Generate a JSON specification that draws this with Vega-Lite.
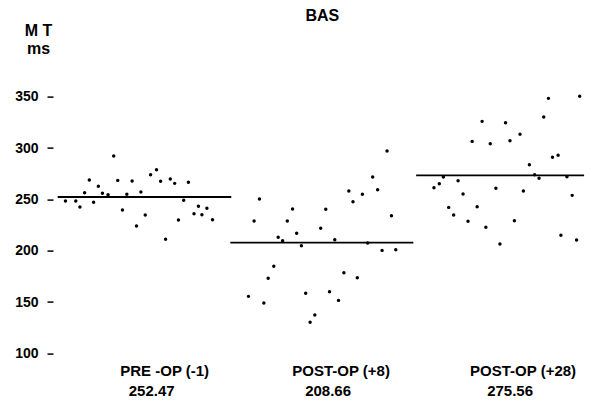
{
  "$schema": "https://vega.github.io/schema/vega-lite/v6.json",
  "width": 563,
  "height": 302.8,
  "autosize": {"type": "none"},
  "padding": {"top": 91.6, "left": 53, "right": 0, "bottom": 7.6},
  "background": "white",
  "config": {"view": {"stroke": null}, "font": "Liberation Sans"},
  "datasets": {
    "points": [
      {"group": "PRE-OP (-1)", "pos": 63.3, "mt": 248.4},
      {"group": "PRE-OP (-1)", "pos": 74.3, "mt": 248.4},
      {"group": "PRE-OP (-1)", "pos": 78.7, "mt": 242.5},
      {"group": "PRE-OP (-1)", "pos": 83.7, "mt": 256.5},
      {"group": "PRE-OP (-1)", "pos": 88.7, "mt": 268.8},
      {"group": "PRE-OP (-1)", "pos": 93.3, "mt": 247.1},
      {"group": "PRE-OP (-1)", "pos": 98.3, "mt": 262.7},
      {"group": "PRE-OP (-1)", "pos": 102.7, "mt": 255.9},
      {"group": "PRE-OP (-1)", "pos": 108.7, "mt": 254.5},
      {"group": "PRE-OP (-1)", "pos": 114.7, "mt": 292.2},
      {"group": "PRE-OP (-1)", "pos": 119, "mt": 268.5},
      {"group": "PRE-OP (-1)", "pos": 124, "mt": 239.6},
      {"group": "PRE-OP (-1)", "pos": 128.7, "mt": 254.9},
      {"group": "PRE-OP (-1)", "pos": 134.3, "mt": 267.9},
      {"group": "PRE-OP (-1)", "pos": 139, "mt": 224},
      {"group": "PRE-OP (-1)", "pos": 143.7, "mt": 257.1},
      {"group": "PRE-OP (-1)", "pos": 148.3, "mt": 234.7},
      {"group": "PRE-OP (-1)", "pos": 154, "mt": 274},
      {"group": "PRE-OP (-1)", "pos": 160.3, "mt": 278.9},
      {"group": "PRE-OP (-1)", "pos": 164.7, "mt": 267.6},
      {"group": "PRE-OP (-1)", "pos": 170, "mt": 211.1},
      {"group": "PRE-OP (-1)", "pos": 175, "mt": 269.8},
      {"group": "PRE-OP (-1)", "pos": 179.7, "mt": 265.6},
      {"group": "PRE-OP (-1)", "pos": 183.7, "mt": 229.9},
      {"group": "PRE-OP (-1)", "pos": 189.3, "mt": 249.1},
      {"group": "PRE-OP (-1)", "pos": 194.3, "mt": 266.6},
      {"group": "PRE-OP (-1)", "pos": 200.3, "mt": 236},
      {"group": "PRE-OP (-1)", "pos": 205, "mt": 243.2},
      {"group": "PRE-OP (-1)", "pos": 208.7, "mt": 235},
      {"group": "PRE-OP (-1)", "pos": 214, "mt": 241.3},
      {"group": "PRE-OP (-1)", "pos": 220, "mt": 230.2},
      {"group": "POST-OP (+8)", "pos": 258.3, "mt": 155.5},
      {"group": "POST-OP (+8)", "pos": 264.3, "mt": 228.9},
      {"group": "POST-OP (+8)", "pos": 270, "mt": 250.3},
      {"group": "POST-OP (+8)", "pos": 274.7, "mt": 149},
      {"group": "POST-OP (+8)", "pos": 279.3, "mt": 173.1},
      {"group": "POST-OP (+8)", "pos": 285.3, "mt": 184.8},
      {"group": "POST-OP (+8)", "pos": 290, "mt": 213},
      {"group": "POST-OP (+8)", "pos": 294.7, "mt": 209.7},
      {"group": "POST-OP (+8)", "pos": 299.7, "mt": 228.9},
      {"group": "POST-OP (+8)", "pos": 305.3, "mt": 240.6},
      {"group": "POST-OP (+8)", "pos": 309.7, "mt": 216.9},
      {"group": "POST-OP (+8)", "pos": 314.7, "mt": 204.8},
      {"group": "POST-OP (+8)", "pos": 319.3, "mt": 158.5},
      {"group": "POST-OP (+8)", "pos": 324, "mt": 130.2},
      {"group": "POST-OP (+8)", "pos": 329, "mt": 137.3},
      {"group": "POST-OP (+8)", "pos": 335.3, "mt": 221.8},
      {"group": "POST-OP (+8)", "pos": 340.7, "mt": 240.3},
      {"group": "POST-OP (+8)", "pos": 344.7, "mt": 160},
      {"group": "POST-OP (+8)", "pos": 350.3, "mt": 210.7},
      {"group": "POST-OP (+8)", "pos": 354.3, "mt": 151.6},
      {"group": "POST-OP (+8)", "pos": 360, "mt": 178.5},
      {"group": "POST-OP (+8)", "pos": 365.3, "mt": 258.1},
      {"group": "POST-OP (+8)", "pos": 369.7, "mt": 247.7},
      {"group": "POST-OP (+8)", "pos": 374.3, "mt": 173.7},
      {"group": "POST-OP (+8)", "pos": 379.7, "mt": 254.9},
      {"group": "POST-OP (+8)", "pos": 385.3, "mt": 207.5},
      {"group": "POST-OP (+8)", "pos": 390.7, "mt": 271.8},
      {"group": "POST-OP (+8)", "pos": 396, "mt": 259.4},
      {"group": "POST-OP (+8)", "pos": 400.7, "mt": 200.3},
      {"group": "POST-OP (+8)", "pos": 406, "mt": 297.1},
      {"group": "POST-OP (+8)", "pos": 410.7, "mt": 234.1},
      {"group": "POST-OP (+8)", "pos": 415.3, "mt": 200.9},
      {"group": "POST-OP (+28)", "pos": 456, "mt": 261.3},
      {"group": "POST-OP (+28)", "pos": 461.7, "mt": 265.2},
      {"group": "POST-OP (+28)", "pos": 466, "mt": 271.8},
      {"group": "POST-OP (+28)", "pos": 471.7, "mt": 242.2},
      {"group": "POST-OP (+28)", "pos": 477, "mt": 234.7},
      {"group": "POST-OP (+28)", "pos": 481.7, "mt": 268.2},
      {"group": "POST-OP (+28)", "pos": 487, "mt": 255.2},
      {"group": "POST-OP (+28)", "pos": 492.3, "mt": 228.6},
      {"group": "POST-OP (+28)", "pos": 496.7, "mt": 306.5},
      {"group": "POST-OP (+28)", "pos": 502, "mt": 242.8},
      {"group": "POST-OP (+28)", "pos": 507.3, "mt": 326},
      {"group": "POST-OP (+28)", "pos": 511.3, "mt": 222.8},
      {"group": "POST-OP (+28)", "pos": 516, "mt": 304.2},
      {"group": "POST-OP (+28)", "pos": 522, "mt": 260.8},
      {"group": "POST-OP (+28)", "pos": 526.3, "mt": 206.5},
      {"group": "POST-OP (+28)", "pos": 532.3, "mt": 324.7},
      {"group": "POST-OP (+28)", "pos": 537, "mt": 307.1},
      {"group": "POST-OP (+28)", "pos": 541.7, "mt": 229.1},
      {"group": "POST-OP (+28)", "pos": 547.7, "mt": 313.4},
      {"group": "POST-OP (+28)", "pos": 551.3, "mt": 258.1},
      {"group": "POST-OP (+28)", "pos": 557.7, "mt": 283.7},
      {"group": "POST-OP (+28)", "pos": 563.3, "mt": 274},
      {"group": "POST-OP (+28)", "pos": 568, "mt": 270.5},
      {"group": "POST-OP (+28)", "pos": 573, "mt": 330.2},
      {"group": "POST-OP (+28)", "pos": 578, "mt": 348.4},
      {"group": "POST-OP (+28)", "pos": 582.3, "mt": 291},
      {"group": "POST-OP (+28)", "pos": 588.3, "mt": 292.9},
      {"group": "POST-OP (+28)", "pos": 591.3, "mt": 215},
      {"group": "POST-OP (+28)", "pos": 597.7, "mt": 272.1},
      {"group": "POST-OP (+28)", "pos": 603.3, "mt": 253.9},
      {"group": "POST-OP (+28)", "pos": 608, "mt": 210.4},
      {"group": "POST-OP (+28)", "pos": 611.3, "mt": 350.4}
    ],
    "groups": [
      {"label": "PRE -OP (-1)", "meanText": "252.47", "mean": 252.3, "start": 55, "end": 240, "center": 169},
      {"label": "POST-OP (+8)", "meanText": "208.66", "mean": 207.8, "start": 239, "end": 434, "center": 357},
      {"label": "POST-OP (+28)", "meanText": "275.56", "mean": 273.3, "start": 437, "end": 616, "center": 551}
    ]
  },
  "layer": [
    {
      "data": {"name": "points"},
      "mark": {"type": "circle", "size": 12, "color": "black", "opacity": 1},
      "encoding": {
        "x": {"field": "pos", "type": "quantitative", "scale": {"domain": [53, 616]}, "axis": null},
        "y": {
          "field": "mt", "type": "quantitative",
          "scale": {"domain": [60, 355], "nice": false, "zero": false},
          "axis": {
            "values": [100, 150, 200, 250, 300, 350],
            "domain": false, "grid": false,
            "tickSize": 6, "tickWidth": 1.5, "tickColor": "black",
            "labelPadding": 9, "labelFontSize": 14, "labelFontWeight": "bold", "labelColor": "black",
            "labelFont": "Liberation Sans",
            "title": ["M T", "ms"],
            "titleAngle": 0, "titleAlign": "center", "titleBaseline": "alphabetic",
            "titleX": -15, "titleY": -56, "titleFontSize": 16, "titleFontWeight": "bold",
            "titleLineHeight": 18, "titleColor": "black", "titleFont": "Liberation Sans"
          }
        }
      }
    },
    {
      "data": {"name": "groups"},
      "mark": {"type": "rule", "color": "black", "strokeWidth": 1.8},
      "encoding": {
        "x": {"field": "start", "type": "quantitative"},
        "x2": {"field": "end"},
        "y": {"field": "mean", "type": "quantitative"}
      }
    },
    {
      "data": {"name": "groups"},
      "mark": {"type": "text", "fontSize": 15, "fontWeight": "bold", "color": "black", "align": "center", "baseline": "middle", "font": "Liberation Sans"},
      "encoding": {
        "x": {"field": "center", "type": "quantitative"},
        "y": {"datum": 82.8},
        "text": {"field": "label"}
      }
    },
    {
      "data": {"name": "groups"},
      "mark": {"type": "text", "fontSize": 15, "fontWeight": "bold", "color": "black", "align": "center", "baseline": "middle", "dx": -13, "font": "Liberation Sans"},
      "encoding": {
        "x": {"field": "center", "type": "quantitative"},
        "y": {"datum": 63.3},
        "text": {"field": "meanText"}
      }
    },
    {
      "data": {"values": [{"t": "BAS"}]},
      "mark": {"type": "text", "fontSize": 16, "fontWeight": "bold", "color": "black", "align": "center", "baseline": "middle", "font": "Liberation Sans"},
      "encoding": {
        "x": {"datum": 337},
        "y": {"datum": 428.6},
        "text": {"field": "t"}
      }
    }
  ]
}
